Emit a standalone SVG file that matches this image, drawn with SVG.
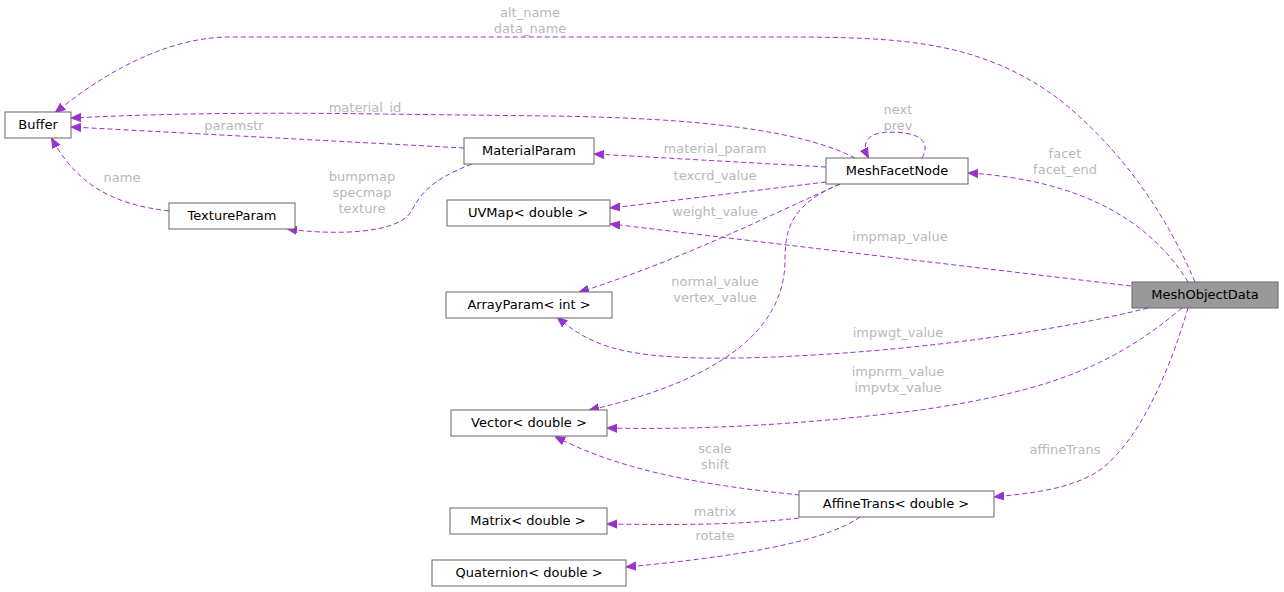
<svg xmlns="http://www.w3.org/2000/svg" width="1284" height="592" viewBox="0 0 1284 592">
<style>
.n rect{fill:#fff;stroke:#666;stroke-width:1}
.n text{font-family:"DejaVu Sans",sans-serif;font-size:13px;fill:#000;text-anchor:middle}
.e path{fill:none;stroke:#9a32cd;stroke-width:1;stroke-dasharray:5,3}
.e text{font-family:"DejaVu Sans",sans-serif;font-size:13px;fill:#b8b8b8;text-anchor:middle}
</style>
<defs>
<marker id="a" viewBox="0 0 10 10" refX="9" refY="5" markerWidth="10" markerHeight="10" markerUnits="userSpaceOnUse" orient="auto">
<path d="M0,1 L10,5 L0,9 z" fill="#9a32cd" stroke="#9a32cd"/>
</marker>
</defs>
<rect width="1284" height="592" fill="#fff"/>
<g class="e">
<path marker-end="url(#a)" d="M1195,282 C1160,200 1110,140 1060,100 C980,40 900,37 780,37 L230,37 C180,37 120,60 56,112"/>
<text x="530" y="17">alt_name</text><text x="530" y="33">data_name</text>
<path marker-end="url(#a)" d="M855,158 C800,130 700,118 550,116 L380,114 C250,112 150,114 72,118"/>
<text x="365" y="112">material_id</text>
<path marker-end="url(#a)" d="M464,148 L72,127"/>
<text x="234" y="130">paramstr</text>
<path marker-end="url(#a)" d="M169,211 C120,205 80,190 52,139"/>
<text x="122" y="182">name</text>
<path marker-end="url(#a)" d="M472,164 C430,180 420,195 412,210 C400,235 330,235 288,229"/>
<text x="362" y="181">bumpmap</text><text x="362" y="197">specmap</text><text x="362" y="213">texture</text>
<path marker-end="url(#a)" d="M826,167 L595,154"/>
<text x="715" y="153">material_param</text>
<path marker-end="url(#a)" d="M826,182 L611,208"/>
<text x="715" y="180">texcrd_value</text>
<path marker-end="url(#a)" d="M840,184 C760,220 680,260 580,292"/>
<text x="715" y="216">weight_value</text>
<path marker-end="url(#a)" d="M840,184 C790,205 785,230 785,260 C785,330 720,380 590,410"/>
<text x="715" y="286">normal_value</text><text x="715" y="302">vertex_value</text>
<path marker-end="url(#a)" d="M922,158 C935,135 905,130 880,133 C866,136 862,145 868,157"/>
<text x="898" y="114">next</text><text x="898" y="130">prev</text>
<path marker-end="url(#a)" d="M1188,282 C1150,220 1080,180 969,173"/>
<text x="1065" y="158">facet</text><text x="1065" y="174">facet_end</text>
<path marker-end="url(#a)" d="M1131,286 L611,224"/>
<text x="900" y="241">impmap_value</text>
<path marker-end="url(#a)" d="M1148,308 C1000,345 800,360 700,358 C620,356 590,345 558,318"/>
<text x="898" y="337">impwgt_value</text>
<path marker-end="url(#a)" d="M1182,308 C1120,360 1060,390 920,410 C800,425 700,430 608,428"/>
<text x="898" y="376">impnrm_value</text><text x="898" y="392">impvtx_value</text>
<path marker-end="url(#a)" d="M1188,308 C1170,370 1140,440 1100,470 C1070,490 1030,493 995,497"/>
<text x="1065" y="454">affineTrans</text>
<path marker-end="url(#a)" d="M800,495 C700,485 620,470 556,437"/>
<text x="715" y="453">scale</text><text x="715" y="469">shift</text>
<path marker-end="url(#a)" d="M799,518 C740,525 680,525 608,524"/>
<text x="715" y="516">matrix</text>
<path marker-end="url(#a)" d="M860,517 C820,545 720,558 627,567"/>
<text x="715" y="540">rotate</text>
</g>
<g id="Buffer" class="n"><rect x="5" y="112" width="66" height="26"/><text x="38" y="129">Buffer</text></g>
<g id="MaterialParam" class="n"><rect x="464" y="138" width="130" height="26"/><text x="529" y="155">MaterialParam</text></g>
<g id="TextureParam" class="n"><rect x="169" y="203" width="126" height="26"/><text x="232" y="220">TextureParam</text></g>
<g id="MeshFacetNode" class="n"><rect x="826" y="158" width="142" height="26"/><text x="897" y="175">MeshFacetNode</text></g>
<g id="UVMap" class="n"><rect x="447" y="200" width="163" height="26"/><text x="528" y="217">UVMap&lt; double &gt;</text></g>
<g id="ArrayParam" class="n"><rect x="446" y="292" width="166" height="26"/><text x="529" y="309">ArrayParam&lt; int &gt;</text></g>
<g id="MeshObjectData" class="n"><rect x="1132" y="282" width="146" height="26" style="fill:#999"/><text x="1205" y="299">MeshObjectData</text></g>
<g id="Vector" class="n"><rect x="451" y="410" width="156" height="26"/><text x="529" y="427">Vector&lt; double &gt;</text></g>
<g id="AffineTrans" class="n"><rect x="799" y="491" width="195" height="26"/><text x="896" y="508">AffineTrans&lt; double &gt;</text></g>
<g id="Matrix" class="n"><rect x="450" y="508" width="157" height="26"/><text x="528" y="525">Matrix&lt; double &gt;</text></g>
<g id="Quaternion" class="n"><rect x="432" y="560" width="194" height="26"/><text x="529" y="577">Quaternion&lt; double &gt;</text></g>
</svg>
